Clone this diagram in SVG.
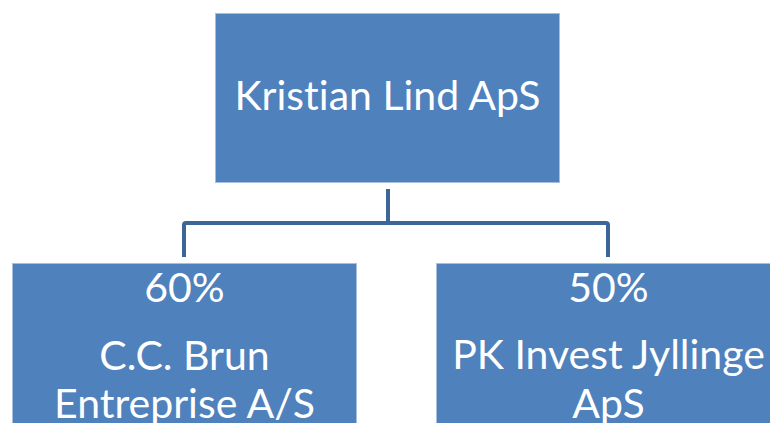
<svg xmlns="http://www.w3.org/2000/svg" width="770" height="423" viewBox="0 0 770 423">
<style>
.box{fill:#4F81BD;stroke:#A7BFDE;stroke-width:1}
.t{font-family:Lato,"Open Sans","Liberation Sans",sans-serif;font-size:41px;fill:#FFFFFF;text-anchor:middle;font-variant-ligatures:none}
.c{fill:none;stroke:#3D6698;stroke-width:4;stroke-linejoin:round}
</style>
<rect width="770" height="423" fill="#FFFFFF"/>
<g id="connectors">
<path class="c" d="M388 189 V223"/>
<path class="c" d="M184 257 V225 Q184 223 186 223 H606 Q608 223 608 225 V257"/>
</g>
<g id="kristian">
<rect class="box" x="215.5" y="13.5" width="344" height="169"/>
<text class="t" x="387.5" y="110">Kristian Lind ApS</text>
</g>
<g id="ccbrun">
<rect class="box" x="12.5" y="263.5" width="344" height="170"/>
<text class="t" x="184.5" y="302">60%</text>
<text class="t" x="184.5" y="370">C.C. Brun</text>
<text class="t" x="184.5" y="418">Entreprise A/S</text>
</g>
<g id="pkinvest">
<rect class="box" x="436.5" y="263.5" width="344" height="170"/>
<text class="t" x="608.5" y="302">50%</text>
<text class="t" x="608.5" y="369">PK Invest Jyllinge</text>
<text class="t" x="608.5" y="418">ApS</text>
</g>
</svg>
